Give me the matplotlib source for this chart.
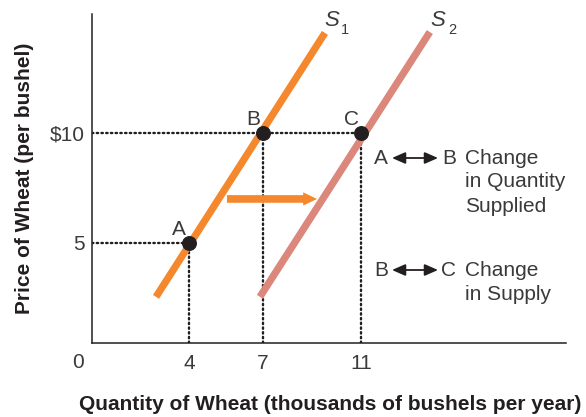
import matplotlib
matplotlib.use("Agg")
import matplotlib.pyplot as plt

# ---- data ----
point_labels = ["A", "B", "C"]
point_x = [4, 7, 11]
point_y = [5, 10, 10]

s1_x = [2.66, 9.52]
s1_y = [2.55, 14.55]
s2_x = [6.88, 13.78]
s2_y = [2.55, 14.59]

shift_x = [5.54, 9.2]
shift_y = [7.0, 7.0]

xticks = [4, 7, 11]
xtick_labels = ["4", "7", "11"]
yticks = [5, 10]
ytick_labels = ["5", "$10"]

W, H = 586, 417
plt.rcParams['font.family'] = ['Liberation Sans', 'DejaVu Sans']
TXT = "#3a3a3a"
ORANGE = "#F5872D"
SALMON = "#DB877B"
DOT = "#231F20"
FS = 15

fig = plt.figure(figsize=(W / 100, H / 100), dpi=100)
ax = fig.add_axes([92 / W, 1 - 343 / H, (566 - 92) / W, (343 - 14) / H])
ax.set_xlim(0.06, 19.31)
ax.set_ylim(0.45, 15.41)

for s in ["top", "right"]:
    ax.spines[s].set_visible(False)
for s in ["left", "bottom"]:
    ax.spines[s].set_linewidth(1.1)
    ax.spines[s].set_color("#231F20")

ax.set_xticks(xticks)
ax.set_xticklabels(xtick_labels)
ax.set_yticks(yticks)
ax.set_yticklabels(ytick_labels)
ax.tick_params(axis="both", length=0, labelsize=FS, labelcolor=TXT)
ax.tick_params(axis="x", pad=8)
ax.tick_params(axis="y", pad=5)

x0, y0 = ax.get_xlim()[0], ax.get_ylim()[0]
dot_kw = dict(color=DOT, lw=1.7, ls=(0, (0.6, 1.4)), dash_capstyle="round", zorder=2)
# horizontal dotted guides
ax.plot([x0, point_x[0]], [point_y[0], point_y[0]], **dot_kw)
ax.plot([x0, point_x[2]], [point_y[2], point_y[2]], **dot_kw)
# vertical dotted guides
for px, py in zip(point_x, point_y):
    ax.plot([px, px], [y0, py], **dot_kw)

# supply curves
ax.plot(s1_x, s1_y, color=ORANGE, lw=5.2, solid_capstyle="butt", zorder=3)
ax.plot(s2_x, s2_y, color=SALMON, lw=5.2, solid_capstyle="butt", zorder=3)

# shift arrow
ax.annotate("", xy=(shift_x[1], shift_y[1]), xytext=(shift_x[0], shift_y[0]),
            arrowprops=dict(arrowstyle="simple,head_length=1.0,head_width=0.95,tail_width=0.55",
                            color=ORANGE, lw=0, shrinkA=0, shrinkB=0), zorder=3)

# points
ax.scatter(point_x, point_y, s=95, color=DOT, zorder=5)
for lab, px, py in zip(point_labels, point_x, point_y):
    ax.annotate(lab, (px, py), xytext=(-2, 6), textcoords="offset points",
                ha="right", va="baseline", fontsize=FS, color=TXT)

def ftext(x, y, s, **kw):
    fig.text(x / W, 1 - y / H, s, **kw)

# origin label
ftext(78, 363, "0", ha="center", va="center", fontsize=FS, color=TXT)

# curve labels
ftext(332, 21, "S", ha="center", va="center", fontsize=16, style="italic", color=TXT)
ftext(345, 30, "1", ha="center", va="center", fontsize=10.5, color=TXT)
ftext(438, 21, "S", ha="center", va="center", fontsize=16, style="italic", color=TXT)
ftext(452, 30, "2", ha="center", va="center", fontsize=10.5, color=TXT)

# legend-like explanations
def explain(y, a, b, lines):
    ftext(381, y, a, ha="center", va="center", fontsize=FS, color=TXT)
    ftext(449, y, b, ha="center", va="center", fontsize=FS, color=TXT)
    fig.add_artist(matplotlib.patches.FancyArrowPatch(
        (392 / W, 1 - y / H), (438 / W, 1 - y / H), transform=fig.transFigure,
        arrowstyle="<|-|>,head_length=8,head_width=3.5", color="#231F20", lw=1.3,
        shrinkA=0, shrinkB=0))
    for i, ln in enumerate(lines):
        ftext(465, y + 24 * i, ln, ha="left", va="center", fontsize=FS, color=TXT)

explain(158, "A", "B", ["Change", "in Quantity", "Supplied"])
explain(270, "B", "C", ["Change", "in Supply"])

# axis titles
ftext(330, 405, "Quantity of Wheat (thousands of bushels per year)", ha="center",
      va="center", fontsize=15, fontweight="bold", color="#231F20")
ftext(25, 178, "Price of Wheat (per bushel)", ha="center", va="center", rotation=90,
      fontsize=15, fontweight="bold", color="#231F20")

fig.savefig("out.png", dpi=100)
